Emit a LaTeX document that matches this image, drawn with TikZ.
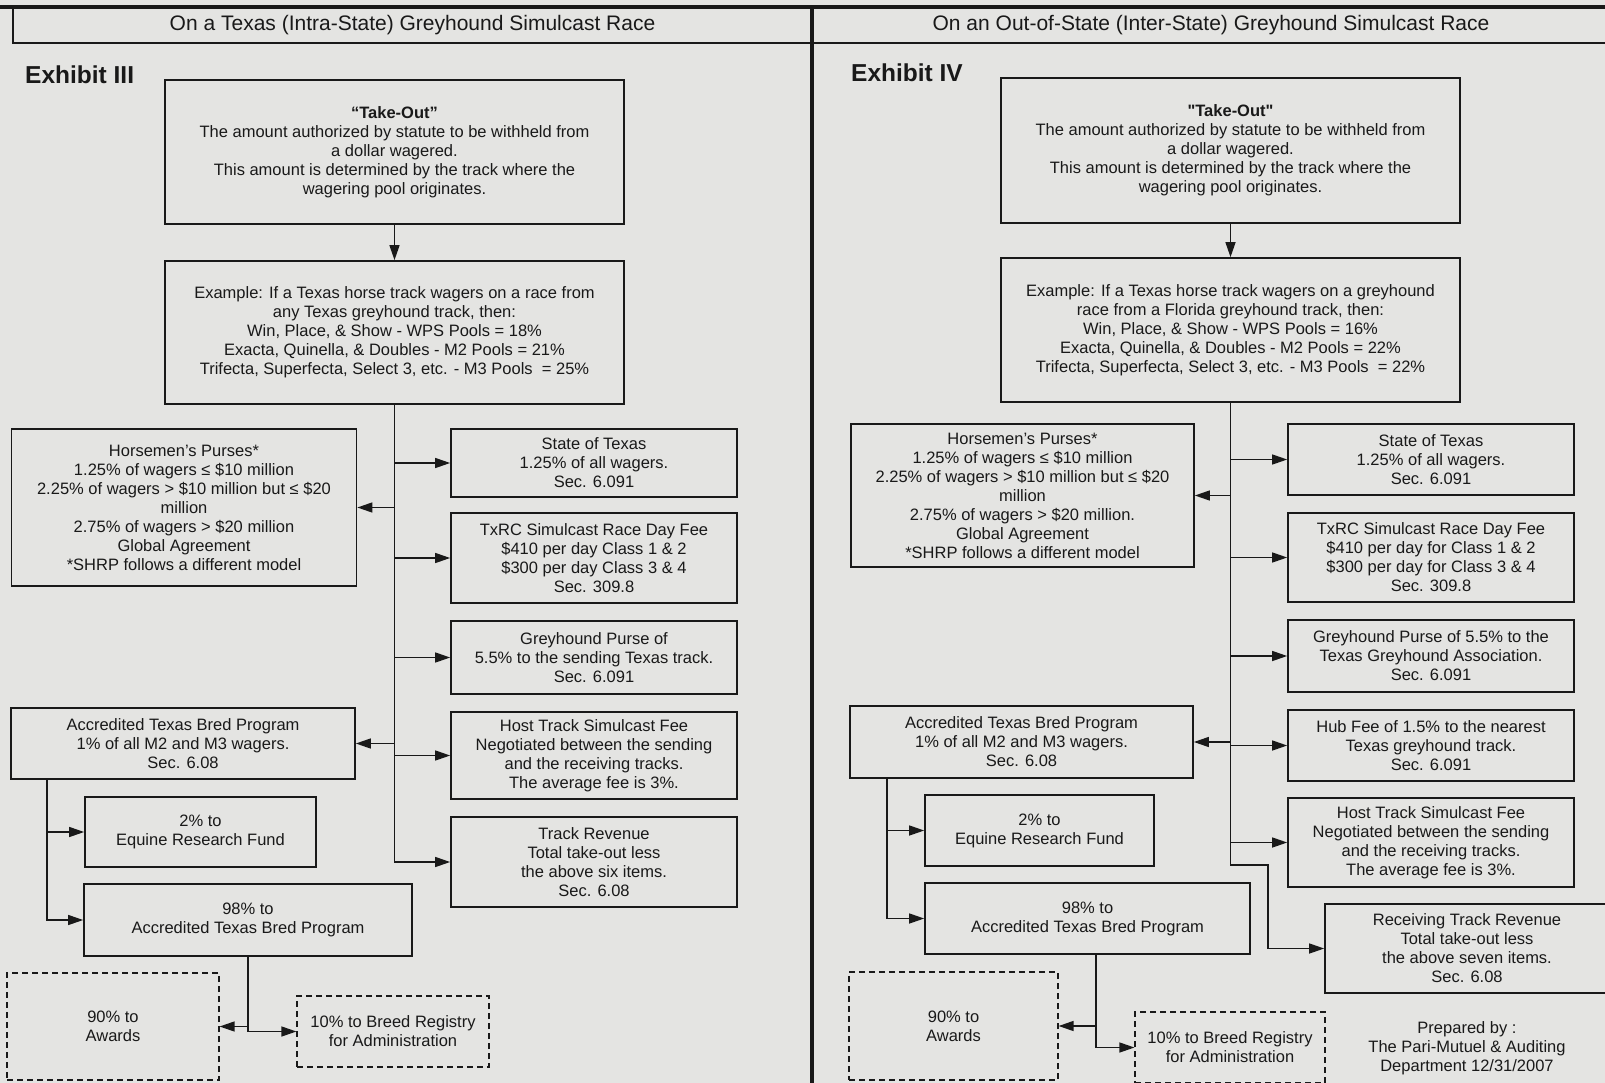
\documentclass[tikz,border=0pt]{standalone}
\usepackage{fontspec}
\setmainfont{Liberation Sans}
\usetikzlibrary{arrows.meta}
\definecolor{paper}{RGB}{228,228,226}
\definecolor{ink}{RGB}{25,25,25}
\begin{document}
\begin{tikzpicture}[
        x=1pt, y=-1pt,
        every node/.style={align=center, text=ink, inner sep=0pt, font=\fontsize{16.5}{19}\selectfont},
        box/.style={draw=ink, line width=1.7pt, minimum width=#1},
        box/.default=286pt,
        dbox/.style={box=#1, dash pattern=on 6pt off 4pt, line width=1.2pt},
        titlebox/.style={draw=ink, line width=1.8pt, minimum height=35pt, minimum width=799pt, font=\fontsize{21}{25}\selectfont},
        exhibit/.style={anchor=west, font=\bfseries\fontsize{24.5}{28}\selectfont},
        arr/.style={draw=ink, line width=1.4pt, -{Triangle[length=15pt,width=10pt]}},
    ]
    \fill[paper] (0,0) rectangle (1605,1083);
    \useasboundingbox (0,0) rectangle (1605,1083);

    \node[titlebox] (titleL) at (412.5,25.5) {On a Texas (Intra-State) Greyhound Simulcast Race};
    \node[titlebox] (titleR) at (1211,25.5) {On an Out-of-State (Inter-State) Greyhound Simulcast Race};
    \draw[ink, line width=3.5pt] (0,7) -- (1605,7);
    \draw[ink, line width=4pt] (812,7) -- (812,1083);

    \node[exhibit] (exhL) at (25,75) {Exhibit III};
    \node[box=459pt, minimum height=144pt] (takeL) at (394.5,152) {\textbf{``Take-Out''}\\The amount authorized by statute to be withheld from\\a dollar wagered.\\This amount is determined by the track where the\\wagering pool originates.};
    \node[box=459pt, minimum height=143pt] (exL) at (394.5,332.5) {Example: If a Texas horse track wagers on a race from\\any Texas greyhound track, then:\\Win, Place, \& Show - WPS Pools = 18\%\\Exacta, Quinella, \& Doubles - M2 Pools = 21\%\\Trifecta, Superfecta, Select 3, etc. - M3 Pools \ = 25\%};
    \node[box=345pt, minimum height=157pt] (horseL) at (184,507.5) {Horsemen's Purses*\\1.25\% of wagers ≤ \$10 million\\2.25\% of wagers > \$10 million but ≤ \$20\\million\\2.75\% of wagers > \$20 million\\Global Agreement\\*SHRP follows a different model};
    \node[box, minimum height=68pt] (stateL) at (594,463) {State of Texas\\1.25\% of all wagers.\\Sec. 6.091};
    \node[box, minimum height=90pt] (txrcL) at (594,558) {TxRC Simulcast Race Day Fee\\\$410 per day Class 1 \& 2\\\$300 per day Class 3 \& 4\\Sec. 309.8};
    \node[box, minimum height=73pt] (greyL) at (594,657.5) {Greyhound Purse of\\5.5\% to the sending Texas track.\\Sec. 6.091};
    \node[box=344pt, minimum height=71pt] (accL) at (183,743.5) {Accredited Texas Bred Program\\1\% of all M2 and M3 wagers.\\Sec. 6.08};
    \node[box, minimum height=87pt] (hostL) at (594,755.5) {Host Track Simulcast Fee\\Negotiated between the sending\\and the receiving tracks.\\The average fee is 3\%.};
    \node[box, minimum height=90pt] (revL) at (594,862) {Track Revenue\\Total take-out less\\the above six items.\\Sec. 6.08};
    \node[box=231pt, minimum height=70pt] (ercL) at (200.5,832) {2\% to\\Equine Research Fund};
    \node[box=328pt, minimum height=72pt] (atbL) at (248,920) {98\% to\\Accredited Texas Bred Program};
    \node[dbox=212pt, minimum height=107pt] (awdL) at (113,1026.5) {90\% to\\Awards};
    \node[dbox=192pt, minimum height=71pt] (brdL) at (393,1031.5) {10\% to Breed Registry\\for Administration};

    \draw[arr] (takeL) -- (exL);
    \draw[arr] (exL.south) |- (revL);
    \draw[arr] (exL.south |- stateL) -- (stateL);
    \draw[arr] (exL.south |- horseL) -- (horseL);
    \draw[arr] (exL.south |- txrcL) -- (txrcL);
    \draw[arr] (exL.south |- greyL) -- (greyL);
    \draw[arr] (exL.south |- accL) -- (accL);
    \draw[arr] (exL.south |- hostL) -- (hostL);
    \coordinate (forkL) at (47,0);
    \draw[arr] (forkL |- accL.south) |- (ercL);
    \draw[arr] (forkL |- accL.south) |- (atbL);
    \draw[arr] (atbL.south) |- (awdL);
    \draw[arr] (atbL.south) |- (brdL);

    \node[exhibit] (exhR) at (851,73) {Exhibit IV};
    \node[box=459pt, minimum height=145pt] (takeR) at (1230.5,150.5) {\textbf{\textquotedbl Take-Out\textquotedbl}\\The amount authorized by statute to be withheld from\\a dollar wagered.\\This amount is determined by the track where the\\wagering pool originates.};
    \node[box=459pt, minimum height=144pt] (exR) at (1230.5,330) {Example: If a Texas horse track wagers on a greyhound\\race from a Florida greyhound track, then:\\Win, Place, \& Show - WPS Pools = 16\%\\Exacta, Quinella, \& Doubles - M2 Pools = 22\%\\Trifecta, Superfecta, Select 3, etc. - M3 Pools \ = 22\%};
    \node[box=343pt, minimum height=143pt] (horseR) at (1022.5,495.5) {Horsemen's Purses*\\1.25\% of wagers ≤ \$10 million\\2.25\% of wagers > \$10 million but ≤ \$20\\million\\2.75\% of wagers > \$20 million.\\Global Agreement\\*SHRP follows a different model};
    \node[box, minimum height=71pt] (stateR) at (1431,459.5) {State of Texas\\1.25\% of all wagers.\\Sec. 6.091};
    \node[box, minimum height=89pt] (txrcR) at (1431,557.5) {TxRC Simulcast Race Day Fee\\\$410 per day for Class 1 \& 2\\\$300 per day for Class 3 \& 4\\Sec. 309.8};
    \node[box, minimum height=72pt] (greyR) at (1431,656) {Greyhound Purse of 5.5\% to the\\Texas Greyhound Association.\\Sec. 6.091};
    \node[box=343pt, minimum height=72pt] (accR) at (1021.5,742) {Accredited Texas Bred Program\\1\% of all M2 and M3 wagers.\\Sec. 6.08};
    \node[box, minimum height=71pt] (hubR) at (1431,745.5) {Hub Fee of 1.5\% to the nearest\\Texas greyhound track.\\Sec. 6.091};
    \node[box, minimum height=89pt] (hostR) at (1431,842.5) {Host Track Simulcast Fee\\Negotiated between the sending\\and the receiving tracks.\\The average fee is 3\%.};
    \node[box=284pt, minimum height=89pt] (recR) at (1467,948.5) {Receiving Track Revenue\\Total take-out less\\the above seven items.\\Sec. 6.08};
    \node[box=229pt, minimum height=71pt] (ercR) at (1039.5,830.5) {2\% to\\Equine Research Fund};
    \node[box=325pt, minimum height=71pt] (atbR) at (1087.5,918.5) {98\% to\\Accredited Texas Bred Program};
    \node[dbox=209pt, minimum height=108pt] (awdR) at (953.5,1026) {90\% to\\Awards};
    \node[dbox=190pt, minimum height=71pt] (brdR) at (1230,1047.5) {10\% to Breed Registry\\for Administration};
    \node (prepR) at (1467,1048) {Prepared by :\\The Pari-Mutuel \& Auditing\\Department 12/31/2007};

    \draw[arr] (takeR) -- (exR);
    \coordinate (bendR) at (1268,865);
    \draw[arr] (exR.south) |- (bendR) |- (recR);
    \draw[arr] (exR.south |- stateR) -- (stateR);
    \draw[arr] (exR.south |- horseR) -- (horseR);
    \draw[arr] (exR.south |- txrcR) -- (txrcR);
    \draw[arr] (exR.south |- greyR) -- (greyR);
    \draw[arr] (exR.south |- accR) -- (accR);
    \draw[arr] (exR.south |- hubR) -- (hubR);
    \draw[arr] (exR.south |- hostR) -- (hostR);
    \coordinate (forkR) at (887,0);
    \draw[arr] (forkR |- accR.south) |- (ercR);
    \draw[arr] (forkR |- accR.south) |- (atbR);
    \coordinate (dropR) at ([xshift=8.5pt]atbR.south);
    \draw[arr] (dropR) |- (awdR);
    \draw[arr] (dropR) |- (brdR);

\end{tikzpicture}
\end{document}
